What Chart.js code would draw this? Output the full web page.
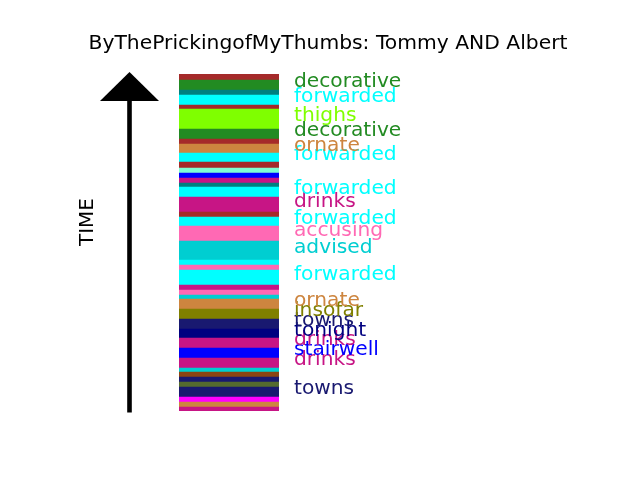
<!DOCTYPE html>
<html>
<head>
<meta charset="utf-8">
<script src="https://cdn.jsdelivr.net/npm/chart.js@4/dist/chart.umd.min.js"></script>
<style>
  html, body { margin: 0; padding: 0; background: #ffffff; }
  #wrap { width: 640px; height: 480px; }
</style>
</head>
<body>
<div id="wrap"><canvas id="c" width="640" height="480"></canvas></div>
<script>
// Segments listed from earliest (bottom) to latest (top)
const words = [
  'drinks','ornate','','towns','','towns','','advised','drinks','stairwell',
  'drinks','tonight','towns','insofar','ornate','advised','accusing','drinks','forwarded','accusing',
  'forwarded','advised','accusing','forwarded','','drinks','forwarded','','drinks','stairwell',
  '','','forwarded','ornate','','decorative','thighs','','forwarded','',
  'decorative',''
];
const durations = [
  4,5,5,10,5,5,5,4,10,10,
  10,9,10,10,10,4,5,5,15,5,
  5,19,15,9,5,15,10,4,5,5,
  5,6,9,9,5,10,20,4,10,5,
  10,6
];
const colors = [
  'mediumvioletred','peru','magenta','midnightblue','darkolivegreen','midnightblue','saddlebrown','darkturquoise','mediumvioletred','blue',
  'mediumvioletred','navy','midnightblue','olive','peru','darkturquoise','hotpink','mediumvioletred','cyan','hotpink',
  'cyan','darkturquoise','hotpink','cyan','brown','mediumvioletred','cyan','teal','mediumvioletred','blue',
  'aquamarine','brown','cyan','peru','brown','forestgreen','chartreuse','brown','cyan','teal',
  'forestgreen','brown'
];
const categories = ['Tommy AND Albert'];
const titleText = 'ByThePrickingofMyThumbs: Tommy AND Albert';
const axisText = 'TIME';
const labelMinDuration = 8;

const total = durations.reduce((a, b) => a + b, 0);
const FONT = '"DejaVu Sans", "Liberation Sans", sans-serif';

const datasets = durations.map((d, i) => ({
  label: words[i] || ('segment ' + (i + 1)),
  data: [d],
  backgroundColor: colors[i],
  borderWidth: 0,
  stack: 'time',
  barPercentage: 1,
  categoryPercentage: 1
}));

const decor = {
  id: 'decor',
  afterDraw(chart) {
    const ctx = chart.ctx;
    const area = chart.chartArea;
    const y = chart.scales.y;
    ctx.save();
    // title
    ctx.fillStyle = '#000';
    ctx.font = '20.3px ' + FONT;
    ctx.textAlign = 'center';
    ctx.textBaseline = 'alphabetic';
    ctx.fillText(titleText, 328, 49);
    // TIME label
    ctx.save();
    ctx.translate(93, 222);
    ctx.rotate(-Math.PI / 2);
    ctx.font = '20px ' + FONT;
    ctx.textAlign = 'center';
    ctx.textBaseline = 'alphabetic';
    ctx.fillText(axisText, 0, 0);
    ctx.restore();
    // arrow
    const ax = area.left - 49.5;
    const top = area.top - 2;
    ctx.fillStyle = '#000';
    ctx.fillRect(ax - 2.3, top + 26, 4.6, area.bottom + 1.5 - (top + 26));
    ctx.beginPath();
    ctx.moveTo(ax, top);
    ctx.lineTo(ax + 29.5, top + 29);
    ctx.lineTo(ax - 29.5, top + 29);
    ctx.closePath();
    ctx.fill();
    // segment labels
    ctx.textAlign = 'left';
    ctx.textBaseline = 'alphabetic';
    ctx.font = '20.2px ' + FONT;
    let start = 0;
    durations.forEach((d, i) => {
      const mid = start + d / 2;
      start += d;
      if (!words[i] || d < labelMinDuration) return;
      ctx.fillStyle = colors[i];
      ctx.fillText(words[i], area.right + 15, y.getPixelForValue(mid) + 2);
    });
    ctx.restore();
  }
};

new Chart(document.getElementById('c'), {
  type: 'bar',
  data: { labels: categories, datasets },
  options: {
    responsive: false,
    animation: false,
    layout: { padding: { left: 179, right: 361, top: 74, bottom: 69 } },
    plugins: { legend: { display: false }, title: { display: false }, tooltip: { enabled: false } },
    scales: {
      x: { stacked: true, display: false },
      y: { stacked: true, display: false, min: 0, max: total }
    }
  },
  plugins: [decor]
});
</script>
</body>
</html>
